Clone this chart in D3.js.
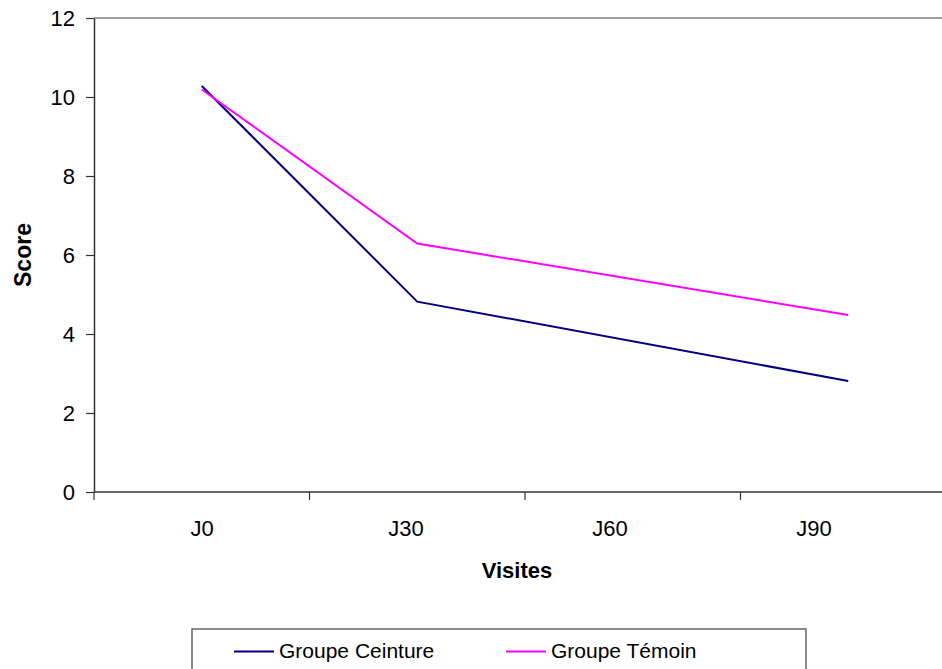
<!DOCTYPE html>
<html>
<head>
<meta charset="utf-8">
<script src="https://cdn.jsdelivr.net/npm/d3@7"></script>
<style>
  body { margin: 0; background: #fff; }
  svg { display: block; font-family: "Liberation Sans", Arial, sans-serif; }
</style>
</head>
<body>
<div id="container"></div>
<script>
const WIDTH = 942;
const HEIGHT = 669;

// Data
const categories = ['J0', 'J30', 'J60', 'J90'];
const yTicks = [0, 2, 4, 6, 8, 10, 12];
const ceinture = [10.28, 4.82, null, 2.81];
const temoin = [10.19, 6.29, null, 4.48];
const seriesNames = ['Groupe Ceinture', 'Groupe Témoin'];
const seriesColors = ['#000080', '#FF00FF'];

// Plot area (right edge runs past the window, as in the reference)
const PLOT = { left: 94, top: 18, right: 956, bottom: 492 };

const svg = d3.select('#container').append('svg')
    .attr('width', WIDTH)
    .attr('height', HEIGHT);

// Scales
const x = d3.scaleBand().domain(categories).range([PLOT.left, PLOT.right]).paddingInner(0).paddingOuter(0);
const xLabel = d3.scalePoint().domain(categories).range([202, 814]);
const y = d3.scaleLinear().domain([0, 12]).range([PLOT.bottom, PLOT.top]);

// Top border of plot area
svg.append('line')
    .attr('x1', PLOT.left).attr('x2', PLOT.right)
    .attr('y1', y(12)).attr('y2', y(12))
    .attr('stroke', '#808080').attr('stroke-width', 1.5);

// Y axis
const yAxis = d3.axisLeft(y).tickValues(yTicks).tickSize(8).tickSizeOuter(0).tickPadding(11);
const gy = svg.append('g')
    .attr('transform', 'translate(' + PLOT.left + ',0)')
    .call(yAxis);
gy.select('.domain').attr('stroke', '#333').attr('stroke-width', 1.5);
gy.selectAll('.tick line').attr('stroke', '#333').attr('stroke-width', 1.2);
gy.selectAll('.tick text')
    .attr('font-size', 22)
    .attr('font-family', '"Liberation Sans", Arial, sans-serif')
    .attr('fill', '#000');

// X axis line and boundary ticks
svg.append('line')
    .attr('x1', PLOT.left).attr('x2', PLOT.right)
    .attr('y1', PLOT.bottom).attr('y2', PLOT.bottom)
    .attr('stroke', '#333').attr('stroke-width', 1.5);
const bounds = categories.map(c => x(c)).concat([x(categories[categories.length - 1]) + x.bandwidth()]);
svg.append('g').selectAll('line')
    .data(bounds)
    .join('line')
    .attr('x1', d => d).attr('x2', d => d)
    .attr('y1', PLOT.bottom).attr('y2', PLOT.bottom + 8)
    .attr('stroke', '#333').attr('stroke-width', 1.2);

svg.append('g').selectAll('text')
    .data(categories)
    .join('text')
    .attr('x', d => xLabel(d))
    .attr('y', 536)
    .attr('text-anchor', 'middle')
    .attr('font-size', 22)
    .text(d => d);

// Axis titles
svg.append('text')
    .attr('x', 517).attr('y', 578)
    .attr('text-anchor', 'middle')
    .attr('font-size', 22).attr('font-weight', 'bold')
    .text('Visites');
svg.append('text')
    .attr('transform', 'translate(31,' + ((PLOT.top + PLOT.bottom) / 2) + ') rotate(-90)')
    .attr('text-anchor', 'middle')
    .attr('font-size', 23).attr('font-weight', 'bold')
    .text('Score');

// Lines (J60 has no value; the line joins J30 to J90)
const line = d3.line()
    .x(d => x(d.cat) + x.bandwidth() / 2)
    .y(d => y(d.value));
[ceinture, temoin].forEach((values, i) => {
    const pts = categories.map((c, j) => ({ cat: c, value: values[j] })).filter(d => d.value !== null);
    svg.append('path')
        .datum(pts)
        .attr('fill', 'none')
        .attr('stroke', seriesColors[i])
        .attr('stroke-width', 2)
        .attr('d', line);
});

// Legend
svg.append('rect')
    .attr('x', 192).attr('y', 629)
    .attr('width', 614).attr('height', 60)
    .attr('fill', '#fff')
    .attr('stroke', '#666').attr('stroke-width', 1.5);
const legendX = [234, 506];
seriesNames.forEach((name, i) => {
    svg.append('line')
        .attr('x1', legendX[i]).attr('x2', legendX[i] + 40)
        .attr('y1', 651.5).attr('y2', 651.5)
        .attr('stroke', seriesColors[i]).attr('stroke-width', 2);
    svg.append('text')
        .attr('x', legendX[i] + 45).attr('y', 658)
        .attr('font-size', 21)
        .text(name);
});
</script>
</body>
</html>
